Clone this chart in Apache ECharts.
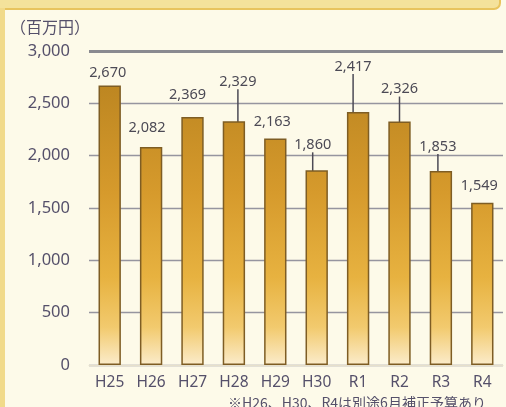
<!DOCTYPE html>
<html>
<head>
<meta charset="utf-8">
<script src="https://cdn.jsdelivr.net/npm/echarts@6/dist/echarts.min.js"></script>
<style>
  html, body { margin: 0; padding: 0; background: #fdfae9; }
  #chart { width: 506px; height: 407px; }
</style>
</head>
<body>
<div id="chart"></div>
<script>
// 年度
var years = ['H25', 'H26', 'H27', 'H28', 'H29', 'H30', 'R1', 'R2', 'R3', 'R4'];
// 金額（百万円）
var amounts = [2670, 2082, 2369, 2329, 2163, 1860, 2417, 2326, 1853, 1549];
var yTicks = [0, 500, 1000, 1500, 2000, 2500, 3000];
var unitText = '（百万円）';
var noteText = '※H26、H30、R4は別途6月補正予算あり';

// ラベルのずらし量と引き出し線
var labelShift = [
  [-2, 0], [-4, -7], [-5, -10], [4, -27], [-3, -4],
  [-4, -13], [-5, -33], [0, -20], [-3, -12], [-3, -4]
];
var withLine = [false, false, false, true, false, true, true, true, true, false];

var myChart = echarts.init(document.getElementById('chart'));

var data = [];
for (var i = 0; i < amounts.length; i++) {
  data[i] = {
    value: amounts[i],
    labelLine: { show: withLine[i] }
  };
}

var textColor = '#55506a';

myChart.setOption({
  backgroundColor: '#fdfae9',
  animation: false,
  grid: { left: 89, right: 3, top: 51, bottom: 42 },
  graphic: [
    // 上の見出し帯
    {
      type: 'rect', shape: { x: -6, y: -20, width: 506, height: 29, r: 6 },
      style: { fill: '#f4e29b', stroke: '#e8c45e', lineWidth: 2 }, z: -1
    },
    // 左の枠線
    {
      type: 'rect', shape: { x: 0, y: 8, width: 5, height: 400 },
      style: { fill: '#f1da8a' }, z: -1
    },
    {
      type: 'text', left: 10, top: 19,
      style: { text: unitText, fontSize: 16, fill: textColor, fontFamily: 'Noto Sans CJK JP' }
    },
    {
      type: 'text', left: 228, top: 396,
      style: { text: noteText, fontSize: 14, fill: textColor, fontFamily: 'Noto Sans CJK JP' }
    }
  ],
  xAxis: {
    type: 'category',
    data: years,
    axisLine: { show: true, lineStyle: { color: '#e6e0cc', width: 1 } },
    axisTick: { show: false },
    axisLabel: {
      color: textColor, fontSize: 15.5, margin: 10,
      fontFamily: 'Noto Sans'
    }
  },
  yAxis: {
    type: 'value',
    min: yTicks[0],
    max: yTicks[yTicks.length - 1],
    interval: yTicks[1] - yTicks[0],
    axisLine: { show: false },
    axisTick: { show: false },
    axisLabel: {
      color: textColor, fontSize: 16.5, margin: 19,
      fontFamily: 'Noto Sans',
      formatter: function (v) { return v.toLocaleString('en-US'); }
    },
    splitLine: { lineStyle: { color: '#96959f', width: 1.4 } }
  },
  series: [{
    type: 'bar',
    data: data,
    barCategoryGap: '46%',
    itemStyle: {
      color: {
        type: 'linear', global: true,
        x: 0, y: 51, x2: 0, y2: 365,
        colorStops: [
          { offset: 0, color: '#b5801e' },
          { offset: 0.45, color: '#d69a2c' },
          { offset: 0.72, color: '#e7b240' },
          { offset: 0.88, color: '#f2ca6e' },
          { offset: 1, color: '#fbeccb' }
        ]
      },
      borderColor: '#7e5d24',
      borderWidth: 1.5
    },
    label: {
      show: true,
      position: 'top',
      distance: 5,
      color: '#4c4a55',
      fontSize: 14.5,
      fontFamily: 'Noto Sans',
      formatter: function (p) { return p.value.toLocaleString('en-US'); }
    },
    labelLayout: function (p) {
      return { dx: labelShift[p.dataIndex][0], dy: labelShift[p.dataIndex][1] };
    },
    labelLine: {
      lineStyle: { color: '#4c4a55', width: 1.5 }
    },
    markLine: {
      silent: true,
      symbol: 'none',
      label: { show: false },
      lineStyle: { color: '#8a8a90', width: 3, type: 'solid' },
      data: [{ yAxis: yTicks[yTicks.length - 1] }]
    }
  }]
});
</script>
</body>
</html>
